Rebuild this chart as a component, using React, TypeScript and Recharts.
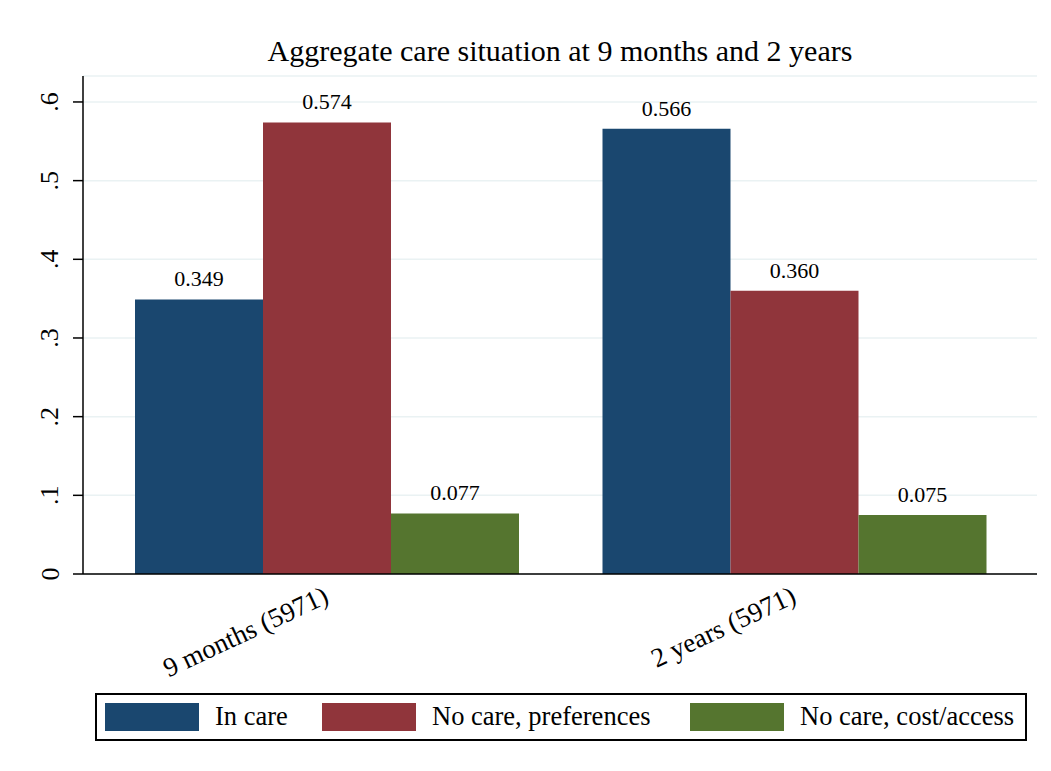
import { Bar, BarChart, CartesianGrid, LabelList, XAxis, YAxis } from "recharts";

const periods = ["9 months (5971)", "2 years (5971)"];
const inCare = [0.349, 0.566];
const noCarePref = [0.574, 0.36];
const noCareCost = [0.077, 0.075];
const yTicks = [0, 0.1, 0.2, 0.3, 0.4, 0.5, 0.6];

const seriesNames = ["In care", "No care, preferences", "No care, cost/access"];
const seriesKeys = ["inCare", "noCarePref", "noCareCost"];
const seriesColors = ["#1a476f", "#90353b", "#55752f"];

const data = periods.map((p, i) => ({
  period: p,
  inCare: inCare[i],
  noCarePref: noCarePref[i],
  noCareCost: noCareCost[i],
}));

const FONT = "'Liberation Serif', 'Times New Roman', serif";

const fmtY = (v: number) => (v === 0 ? "0" : String(v).replace(/^0/, ""));

function YTick(props: any) {
  const { x, y, payload } = props;
  const cx = x - 21;
  return (
    <text
      x={cx}
      y={y}
      transform={`rotate(-90, ${cx}, ${y})`}
      textAnchor="middle"
      dominantBaseline="central"
      fontFamily={FONT}
      fontSize={26}
      fill="#000"
    >
      {fmtY(payload.value)}
    </text>
  );
}

function XTick(props: any) {
  const { x, y, payload } = props;
  const ax = x + 4;
  const ay = y + 20;
  return (
    <text
      x={ax}
      y={ay}
      transform={`rotate(-25, ${ax}, ${ay})`}
      textAnchor="end"
      fontFamily={FONT}
      fontSize={27}
      fill="#000"
    >
      {payload.value}
    </text>
  );
}

export default function App() {
  return (
    <div
      style={{
        position: "relative",
        width: 1035,
        height: 755,
        background: "#fff",
        fontFamily: FONT,
      }}
    >
      <div
        style={{
          position: "absolute",
          left: -1,
          top: 1,
          width: 0,
          height: 754,
          borderLeft: "1px solid #ececec",
        }}
      />
      <div
        style={{
          position: "absolute",
          left: 75,
          width: 954,
          top: 26,
          textAlign: "center",
          fontSize: 30,
          lineHeight: "34px",
          color: "#000",
          whiteSpace: "nowrap",
        }}
      >
        Aggregate care situation at 9 months and 2 years
      </div>
      <div style={{ position: "absolute", left: 0, top: 0 }}>
        <BarChart
          width={1035}
          height={755}
          data={data}
          margin={{ top: 68, right: 6, left: 0, bottom: 0 }}
          barCategoryGap={42.5}
          barGap={0}
        >
          <CartesianGrid
            vertical={false}
            stroke="#eaf2f3"
            strokeWidth={1.5}
          />
          <XAxis
            dataKey="period"
            height={189}
            padding={{ left: 9.5, right: 9.5 }}
            axisLine={{ stroke: "#000", strokeWidth: 1.5 }}
            tickLine={false}
            tick={<XTick />}
            interval={0}
          />
          <YAxis
            width={75}
            type="number"
            domain={[0, 0.633]}
            ticks={yTicks}
            axisLine={{ stroke: "#000", strokeWidth: 1.5 }}
            tickLine={{ stroke: "#000", strokeWidth: 1.5 }}
            tickSize={10}
            tick={<YTick />}
          />
          {seriesKeys.map((k, i) => (
            <Bar
              key={k}
              dataKey={k}
              name={seriesNames[i]}
              fill={seriesColors[i]}
              isAnimationActive={false}
            >
              <LabelList
                dataKey={k}
                position="top"
                offset={13}
                formatter={(v: any) => Number(v).toFixed(3)}
                style={{ fontFamily: FONT, fontSize: 22, fill: "#000" }}
              />
            </Bar>
          ))}
        </BarChart>
      </div>
      <div
        style={{
          position: "absolute",
          left: 87,
          top: 685,
          width: 928,
          height: 44,
          border: "2px solid #000",
          background: "#fff",
        }}
      >
        {seriesNames.map((n, i) => {
          const swatchLeft = [8, 225, 593][i];
          return (
            <div key={n}>
              <div
                style={{
                  position: "absolute",
                  left: swatchLeft,
                  top: 8,
                  width: 94,
                  height: 28,
                  background: seriesColors[i],
                }}
              />
              <div
                style={{
                  position: "absolute",
                  left: swatchLeft + 110,
                  top: 6,
                  fontSize: 26.5,
                  lineHeight: "30px",
                  color: "#000",
                  whiteSpace: "nowrap",
                }}
              >
                {n}
              </div>
            </div>
          );
        })}
      </div>
    </div>
  );
}
